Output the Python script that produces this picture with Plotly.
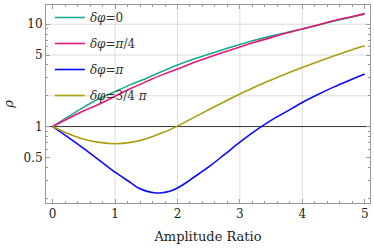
import plotly.graph_objects as go

amp = [0, 0.25, 0.5, 0.75, 1, 1.25, 1.5, 1.75, 2, 2.25, 2.5, 2.75, 3, 3.25, 3.5, 3.75, 4, 4.25, 4.5, 4.75, 5]
rho_0 = [1, 1.25, 1.55, 1.88, 2.2, 2.57, 2.95, 3.45, 4.0, 4.55, 5.1, 5.7, 6.35, 7.0, 7.65, 8.3, 9.0, 9.8, 10.7, 11.6, 12.5]
rho_pi4 = [1, 1.2, 1.43, 1.66, 1.98, 2.35, 2.75, 3.2, 3.65, 4.2, 4.75, 5.35, 6.0, 6.7, 7.4, 8.2, 9.0, 9.85, 10.8, 11.7, 12.7]
rho_3pi4 = [1, 0.85, 0.75, 0.70, 0.68, 0.70, 0.76, 0.867, 1.01, 1.216, 1.46, 1.75, 2.08, 2.45, 2.85, 3.3, 3.78, 4.3, 4.88, 5.5, 6.15]

amp_pi = [0, 0.25, 0.5, 0.75, 1, 1.25, 1.375, 1.5, 1.625, 1.75, 1.875, 2, 2.125, 2.25, 2.5, 2.75, 3, 3.25, 3.5, 3.75, 4, 4.25, 4.5, 4.75, 5]
rho_pi = [1, 0.785, 0.61, 0.468, 0.358, 0.283, 0.251, 0.234, 0.2255, 0.2255, 0.233, 0.251, 0.279, 0.316, 0.403, 0.531, 0.703, 0.912, 1.148, 1.406, 1.718, 2.056, 2.43, 2.825, 3.26]

names = ["<i>δφ</i>=0", "<i>δφ</i>=<i>π</i>/4", "<i>δφ</i>=<i>π</i>", "<i>δφ</i>=3/4 <i>π</i>"]
colors = ["#17aa8c", "#e8177a", "#0a0aff", "#aa9e0c"]
xs = [amp, amp, amp_pi, amp]
series = [rho_0, rho_pi4, rho_pi, rho_3pi4]

x_ticks = [0, 1, 2, 3, 4, 5]
y_ticks = [0.5, 1, 5, 10]
y_tick_text = ["0.5", "1", "5", "10"]
y_minor = [0.2, 0.3, 0.4, 0.6, 0.7, 0.8, 0.9, 2, 3, 4, 6, 7, 8, 9]
x_grid = [1, 2, 3, 4]
y_grid = [2, 5, 10]

FONT = "DejaVu Serif"

fig = go.Figure()
for i, (nm, c, x, s) in enumerate(zip(names, colors, xs, series)):
    fig.add_trace(go.Scatter(x=x, y=s, mode="lines", name=nm, legendgroup=str(i),
                             line=dict(color=c, width=1.6, shape="spline", smoothing=1.0)))

for gx in x_grid:
    fig.add_vline(x=gx, line=dict(color="#dcdcdc", width=1), layer="below")
for gy in y_grid:
    fig.add_hline(y=gy, line=dict(color="#dcdcdc", width=1), layer="below")
fig.add_hline(y=1, line=dict(color="#333333", width=1), layer="below")

fig.update_layout(
    width=374, height=250,
    margin=dict(l=46, r=4, t=4, b=47),
    paper_bgcolor="white", plot_bgcolor="white",
    font=dict(family=FONT, size=12, color="#222222"),
    showlegend=True,
    legend=dict(x=0.012, y=1.005, xanchor="left", yanchor="top", bgcolor="rgba(0,0,0,0)",
                font=dict(family=FONT, size=12, color="#333333"), tracegroupgap=7,
                itemwidth=30),
    xaxis=dict(range=[-0.107, 5.085], tickvals=x_ticks, showgrid=False, zeroline=False,
               automargin=False,
               showline=True, linecolor="#999999", linewidth=1, mirror="allticks",
               ticks="inside", ticklen=4, tickcolor="#999999",
               minor=dict(dtick=0.2, tick0=0, ticks="inside", ticklen=2, tickcolor="#999999", showgrid=False),
               title=dict(text="Amplitude Ratio", font=dict(family=FONT, size=13), standoff=11)),
    yaxis=dict(type="log", range=[-0.747, 1.188], tickvals=y_ticks, ticktext=y_tick_text,
               showgrid=False, zeroline=False, automargin=False,
               showline=True, linecolor="#999999", linewidth=1, mirror="allticks",
               ticks="inside", ticklen=4, tickcolor="#999999",
               minor=dict(tickvals=y_minor, ticks="inside", ticklen=2, tickcolor="#999999", showgrid=False),
               title=dict(text="<i>ρ</i>", font=dict(family=FONT, size=13), standoff=6)),
)

fig.write_html("out.html", config={"displayModeBar": False},
               post_script="document.body.style.margin='0';document.body.style.padding='0';")
